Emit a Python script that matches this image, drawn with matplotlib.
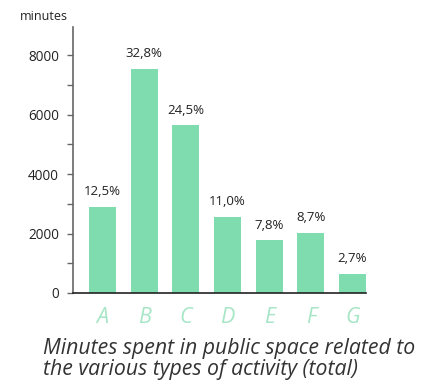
import matplotlib
matplotlib.use("Agg")
import matplotlib.pyplot as plt
from matplotlib.ticker import MultipleLocator

categories = ["A", "B", "C", "D", "E", "F", "G"]
minutes = [2900, 7550, 5650, 2570, 1770, 2030, 650]
shares = ["12,5%", "32,8%", "24,5%", "11,0%", "7,8%", "8,7%", "2,7%"]
yticks = [0, 2000, 4000, 6000, 8000]

plt.rcParams['font.family'] = ['Open Sans', 'DejaVu Sans']

fig = plt.figure(figsize=(4.35, 3.87), dpi=100)
ax = fig.add_axes([73/435, 94/387, 293/435, 266/387])

x = list(range(len(categories)))
bars = ax.bar(x, minutes, width=0.65, color="#7fdcae", zorder=2)
for xi, v, s in zip(x, minutes, shares):
    ax.annotate(s, (xi, v), xytext=(0, 6), textcoords="offset points",
                ha="center", va="bottom", fontsize=9.5, color="#222222")

ax.set_xlim(-0.71, 6.325)
ax.set_ylim(0, 8950)
ax.set_yticks(yticks)
ax.set_yticklabels([str(t) for t in yticks], fontsize=9.8, color="#222222")
ax.yaxis.set_minor_locator(MultipleLocator(1000))
ax.tick_params(axis="y", which="both", length=4, width=1, color="#666666", pad=6)
ax.set_xticks(x)
ax.set_xticklabels(categories, fontsize=15.5, style="italic", color="#a6e6c6")
ax.tick_params(axis="x", length=0, pad=10)

for sp in ["top", "right"]:
    ax.spines[sp].set_visible(False)
ax.spines["left"].set_color("#666666")
ax.spines["left"].set_linewidth(1.2)
ax.spines["bottom"].set_color("#222222")
ax.spines["bottom"].set_linewidth(1.2)

fig.text(44/435, 1 - 17/387, "minutes", ha="center", va="center", fontsize=9, color="#222222")
fig.text(43/435, 1 - 338/387, "Minutes spent in public space related to\nthe various types of activity (total)",
         ha="left", va="top", fontsize=15.3, style="italic", color="#333333", linespacing=1.0)

fig.savefig("out.png", dpi=100)
